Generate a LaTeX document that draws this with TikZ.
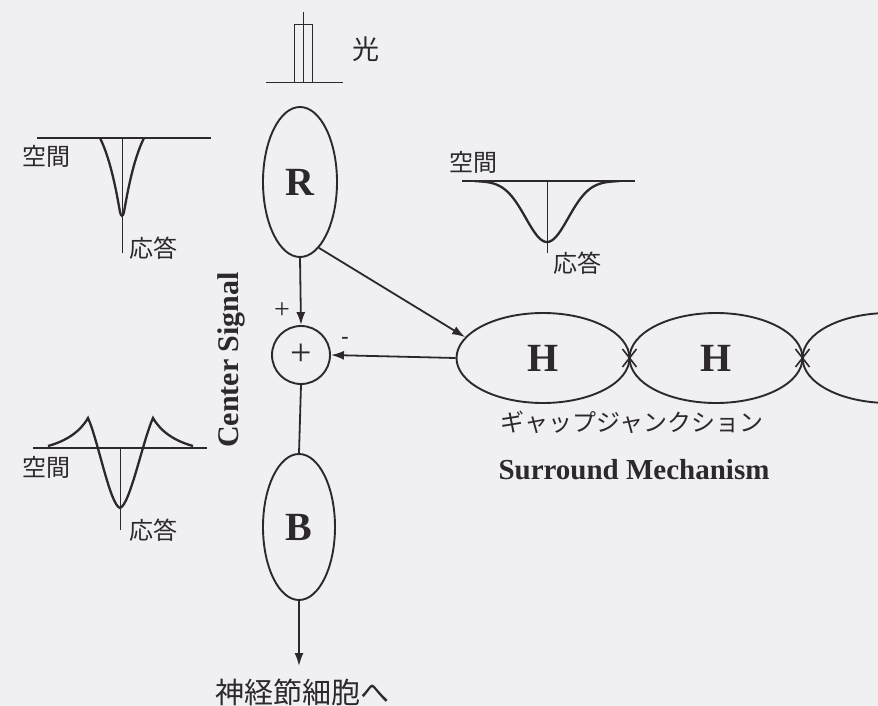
\documentclass[tikz,border=0pt]{standalone}
\usepackage{fontspec}
\setmainfont{Liberation Serif}
\newfontfamily\jp{Noto Sans CJK JP}
\usetikzlibrary{arrows.meta,shapes.geometric,calc}
\definecolor{bg}{RGB}{240,240,242}
\definecolor{ink}{RGB}{45,40,45}
\tikzset{
  cell/.style={ellipse,draw=ink,line width=1.9pt,inner sep=0pt,font=\bfseries\fontsize{40}{40}\selectfont,text=ink},
  conn/.style={draw=ink,line width=1.8pt},
  arr/.style={conn,-{Latex[length=13pt,width=9pt]}},
  jtext/.style={font=\jp\fontsize{24}{24}\selectfont,text=ink,inner sep=0pt},
  axis/.style={draw=ink,line width=1.1pt},
  curve/.style={draw=ink,line width=2.3pt},
  thin/.style={draw=ink,line width=1pt},
}
\begin{document}
\begin{tikzpicture}[x=1pt,y=-1pt]
\fill[bg] (0,0) rectangle (878,706);
\useasboundingbox (0,0) rectangle (878,706);
\clip (0,0) rectangle (878,706);
% light stimulus
\draw[thin] (266,83) -- (343,83);
\draw[thin] (294,83) -- (294,25) -- (312,25) -- (312,83);
\draw[thin] (303,12) -- (303,83);
\node[jtext,font=\jp\fontsize{27}{27}\selectfont] (hikari) at (366,49) {光};
% cells
\node[cell,minimum width=74pt,minimum height=150pt] (R) at (300,182) {R};
\node[circle,draw=ink,line width=1.9pt,minimum size=58pt,inner sep=0pt,font=\fontsize{38}{38}\selectfont,text=ink] (S) at (301,355) {+};
\node[cell,minimum width=72pt,minimum height=146pt] (B) at (299,527) {B};
\node[cell,minimum width=173pt,minimum height=90pt] (H1) at (543,358) {H};
\node[cell,minimum width=173pt,minimum height=90pt] (H2) at (716,358) {H};
\node[cell,minimum width=173pt,minimum height=90pt] (H3) at (889,358) {};
% gap junction marks
\foreach \x/\n in {629.5/gj1,802.5/gj2}{
  \coordinate (\n) at (\x,358);
  \draw[ink,line width=1.6pt] ($(\n)+(-7,-9)$) -- ($(\n)+(7,9)$);
  \draw[ink,line width=1.6pt] ($(\n)+(-7,9)$) -- ($(\n)+(7,-9)$);
}
% connectors
\draw[arr] (R.south) -- (S.north);
\draw[arr] (R.-74) -- (H1.165);
\draw[arr] (H1.west) -- (S.east);
\draw[conn] (S.south) -- (B.north);
\coordinate (out) at (299,666);
\draw[arr] (B.south) -- (out);
\node[font=\fontsize{28}{28}\selectfont,text=ink] (plus) at (282,311) {+};
\node[font=\bfseries\fontsize{22}{22}\selectfont,text=ink] (minus) at (345,340) {-};
\node[rotate=90,font=\bfseries\fontsize{30}{30}\selectfont,text=ink] (cs) at (231,360) {Center Signal};
\node[jtext] (gap) at (632,422) {ギャップジャンクション};
\node[font=\bfseries\fontsize{29}{29}\selectfont,text=ink] (sm) at (634,470) {Surround Mechanism};
\node[jtext,font=\jp\fontsize{29}{29}\selectfont] (gc) at (302,692) {神経節細胞へ};
% graph 1 (top left)
\draw[axis] (37,138) -- (211,138);
\draw[thin] (122,138) -- (122,253);
\draw[curve] (100,138) .. controls (111,160) and (117,195) .. (120,212)
  .. controls (121,217) and (123,217) .. (124,212)
  .. controls (127,195) and (133,160) .. (144,138);
\node[jtext] (sp1) at (47,156) {空間};
\node[jtext] (rs1) at (153,248) {応答};
% graph 2 (middle)
\draw[axis] (462,181) -- (635,181);
\draw[thin] (547,181) -- (547,253);
\draw[curve,domain=-72:72,samples=80,smooth] plot ({547+\x},{181+61*exp(-(\x/30)^2)});
\node[jtext] (sp2) at (473,162) {空間};
\node[jtext] (rs2) at (577,263) {応答};
% graph 3 (bottom left)
\draw[axis] (33,448) -- (207,448);
\draw[thin] (120,448) -- (120,530);
\draw[curve] (48,446) .. controls (66,441) and (80,432) .. (88,418)
  .. controls (98,440) and (110,505) .. (120,508)
  .. controls (130,505) and (143,440) .. (153,418)
  .. controls (161,432) and (175,441) .. (193,446);
\node[jtext] (sp3) at (46,467) {空間};
\node[jtext] (rs3) at (153,530) {応答};
\end{tikzpicture}
\end{document}
